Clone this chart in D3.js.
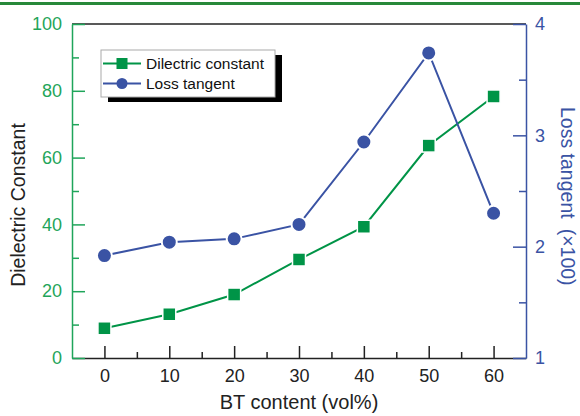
<!DOCTYPE html>
<html>
<head>
<meta charset="utf-8">
<script src="https://cdn.jsdelivr.net/npm/d3@7"></script>
<style>
  body { margin: 0; background: #fff; }
  svg { display: block; font-family: "Liberation Sans", Arial, sans-serif; }
</style>
</head>
<body>
<div class="chart"></div>
<script>
// values
const btContent = [0, 10, 20, 30, 40, 50, 60];
const dielectric = [8.9, 13.1, 19.0, 29.5, 39.3, 63.6, 78.3];
const lossTangent = [1.92, 2.04, 2.07, 2.20, 2.94, 3.74, 2.30];

const xTicks = [0, 10, 20, 30, 40, 50, 60];
const xMinor = [5, 15, 25, 35, 45, 55];
const leftTicks = [0, 20, 40, 60, 80, 100];
const leftMinor = [10, 30, 50, 70, 90];
const rightTicks = [1, 2, 3, 4];
const rightMinor = [1.5, 2.5, 3.5];

const green = "#009447", greenAxis = "#1fa55a", blue = "#3a53a4";
const font = "'Liberation Sans', Arial, sans-serif";

const width = 580, height = 416;
const plot = {left: 72, right: 526, top: 24, bottom: 358};

var svg = d3.select(".chart").append("svg")
    .attr("width", width)
    .attr("height", height);

// top decorative bar
svg.append("rect")
    .attr("x", 0).attr("y", 2)
    .attr("width", width).attr("height", 3)
    .attr("fill", "#27893a");

const xScale = d3.scaleLinear().domain([-5, 65]).range([plot.left, plot.right]);
const yLeft = d3.scaleLinear().domain([0, 100]).range([plot.bottom, plot.top]);
const yRight = d3.scaleLinear().domain([1, 4]).range([plot.bottom, plot.top]);

// top frame line
svg.append("line")
    .attr("x1", plot.left).attr("x2", plot.right)
    .attr("y1", plot.top).attr("y2", plot.top)
    .attr("stroke", "#222").attr("stroke-width", 1.5);

// x axis
const gx = svg.append("g")
    .attr("transform", `translate(0,${plot.bottom})`)
    .call(d3.axisBottom(xScale).tickValues(xTicks).tickSize(-12).tickSizeOuter(0).tickPadding(11));
svg.append("g")
    .attr("transform", `translate(0,${plot.bottom})`)
    .call(d3.axisBottom(xScale).tickValues(xMinor).tickSize(-6).tickSizeOuter(0).tickFormat(""))
    .select(".domain").remove();
svg.selectAll("g").selectAll(".domain, line").attr("stroke", "#222").attr("stroke-width", 1.5);
gx.attr("font-family", font);
gx.selectAll("text").attr("font-size", 18).attr("fill", "#222");

// left axis
const gl = svg.append("g")
    .attr("transform", `translate(${plot.left},0)`)
    .call(d3.axisLeft(yLeft).tickValues(leftTicks).tickSize(-13).tickSizeOuter(0).tickPadding(10));
const glm = svg.append("g")
    .attr("transform", `translate(${plot.left},0)`)
    .call(d3.axisLeft(yLeft).tickValues(leftMinor).tickSize(-7).tickSizeOuter(0).tickFormat(""));
glm.select(".domain").remove();
[gl, glm].forEach(g => g.selectAll(".domain, line").attr("stroke", greenAxis).attr("stroke-width", 1.5));
gl.attr("font-family", font);
gl.selectAll("text").attr("font-size", 18).attr("fill", greenAxis);

// right axis
const gr = svg.append("g")
    .attr("transform", `translate(${plot.right},0)`)
    .call(d3.axisRight(yRight).tickValues(rightTicks).tickSize(-13).tickSizeOuter(0).tickPadding(9).tickFormat(d3.format("d")));
const grm = svg.append("g")
    .attr("transform", `translate(${plot.right},0)`)
    .call(d3.axisRight(yRight).tickValues(rightMinor).tickSize(-7).tickSizeOuter(0).tickFormat(""));
grm.select(".domain").remove();
[gr, grm].forEach(g => g.selectAll(".domain, line").attr("stroke", blue).attr("stroke-width", 1.5));
gr.attr("font-family", font);
gr.selectAll("text").attr("font-size", 18).attr("fill", blue);

// axis titles
svg.append("text")
    .text("BT content (vol%)")
    .attr("x", 299).attr("y", 409)
    .attr("text-anchor", "middle")
    .attr("font-size", 20).attr("fill", "#222");

svg.append("text")
    .text("Dielectric Constant")
    .attr("transform", "translate(25,205) rotate(-90)")
    .attr("text-anchor", "middle")
    .attr("font-size", 19.5).attr("fill", "#222");

const rt = svg.append("text")
    .attr("transform", "translate(561,107) rotate(90)")
    .attr("font-size", 19.5).attr("fill", blue);
rt.append("tspan").text("Loss tangent");
rt.append("tspan").attr("dx", 10).text("(×100)");

// series
const dData = btContent.map((b, i) => ({x: b, y: dielectric[i]}));
const lData = btContent.map((b, i) => ({x: b, y: lossTangent[i]}));

svg.append("path")
    .datum(dData)
    .attr("fill", "none").attr("stroke", green).attr("stroke-width", 2)
    .attr("d", d3.line().x(d => xScale(d.x)).y(d => yLeft(d.y)));

svg.selectAll(".sq")
    .data(dData)
    .enter().append("rect")
    .attr("class", "sq")
    .attr("x", d => xScale(d.x) - 6.5)
    .attr("y", d => yLeft(d.y) - 6.5)
    .attr("width", 13).attr("height", 13)
    .attr("fill", green).attr("stroke", "#fff").attr("stroke-width", 1.5);

svg.append("path")
    .datum(lData)
    .attr("fill", "none").attr("stroke", blue).attr("stroke-width", 2)
    .attr("d", d3.line().x(d => xScale(d.x)).y(d => yRight(d.y)));

svg.selectAll(".dot")
    .data(lData)
    .enter().append("circle")
    .attr("class", "dot")
    .attr("cx", d => xScale(d.x))
    .attr("cy", d => yRight(d.y))
    .attr("r", 7.5)
    .attr("fill", blue).attr("stroke", "#fff").attr("stroke-width", 2);

// legend
const lg = {x: 101, y: 50, w: 174, h: 47};
svg.append("rect")
    .attr("x", lg.x + 7).attr("y", lg.y + 5)
    .attr("width", lg.w).attr("height", lg.h)
    .attr("fill", "#000");
svg.append("rect")
    .attr("x", lg.x).attr("y", lg.y)
    .attr("width", lg.w).attr("height", lg.h)
    .attr("fill", "#fff").attr("stroke", "#aaa").attr("stroke-width", 1);

const items = [
    {label: "Dilectric constant", color: green, shape: "square"},
    {label: "Loss tangent", color: blue, shape: "circle"}
];
items.forEach((it, i) => {
    const cy = lg.y + 13.5 + i * 20;
    svg.append("line")
        .attr("x1", lg.x + 2).attr("x2", lg.x + 40)
        .attr("y1", cy).attr("y2", cy)
        .attr("stroke", it.color).attr("stroke-width", 2);
    if (it.shape === "square") {
        svg.append("rect")
            .attr("x", lg.x + 21 - 5.5).attr("y", cy - 5.5)
            .attr("width", 11).attr("height", 11)
            .attr("fill", it.color);
    } else {
        svg.append("circle")
            .attr("cx", lg.x + 21).attr("cy", cy).attr("r", 5.5)
            .attr("fill", it.color);
    }
    svg.append("text")
        .text(it.label)
        .attr("x", lg.x + 45).attr("y", cy)
        .attr("dy", "0.36em")
        .attr("font-size", 15.5).attr("fill", "#111");
});
</script>
</body>
</html>
